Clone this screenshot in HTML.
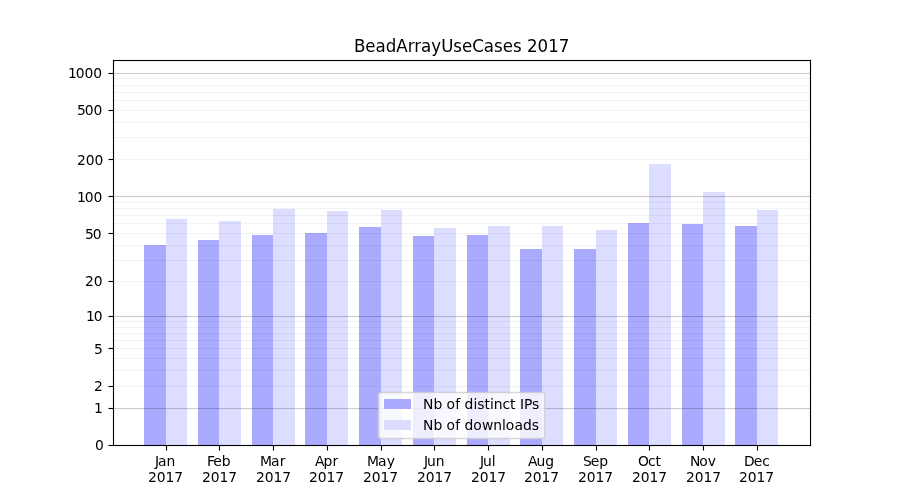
<!DOCTYPE html>
<html lang="en"><head><meta charset="utf-8"><title>BeadArrayUseCases 2017</title>
<style>
html,body{margin:0;padding:0;background:#fff;}
body{width:900px;height:500px;overflow:hidden;}
svg{display:block;}
text{font-family:"DejaVu Sans","Liberation Sans",sans-serif;fill:#000;white-space:pre;}
.t{font-size:13.8889px;}
.ttl{font-size:16.6667px;}
</style></head>
<body>
<svg width="900" height="500" viewBox="0 0 900 500">
<rect width="900" height="500" fill="#fff"/>
<g shape-rendering="crispEdges">
<!-- bars -->
<rect x="144" y="245" width="22" height="200" fill="#aaaaff"/><rect x="166" y="219" width="21" height="226" fill="#ddddff"/>
<rect x="198" y="240" width="21" height="205" fill="#aaaaff"/><rect x="219" y="221" width="22" height="224" fill="#ddddff"/>
<rect x="252" y="235" width="21" height="210" fill="#aaaaff"/><rect x="273" y="209" width="22" height="236" fill="#ddddff"/>
<rect x="305" y="233" width="22" height="212" fill="#aaaaff"/><rect x="327" y="211" width="21" height="234" fill="#ddddff"/>
<rect x="359" y="227" width="22" height="218" fill="#aaaaff"/><rect x="381" y="210" width="21" height="235" fill="#ddddff"/>
<rect x="413" y="236" width="21" height="209" fill="#aaaaff"/><rect x="434" y="228" width="22" height="217" fill="#ddddff"/>
<rect x="467" y="235" width="21" height="210" fill="#aaaaff"/><rect x="488" y="226" width="22" height="219" fill="#ddddff"/>
<rect x="520" y="249" width="22" height="196" fill="#aaaaff"/><rect x="542" y="226" width="21" height="219" fill="#ddddff"/>
<rect x="574" y="249" width="22" height="196" fill="#aaaaff"/><rect x="596" y="230" width="21" height="215" fill="#ddddff"/>
<rect x="628" y="223" width="21" height="222" fill="#aaaaff"/><rect x="649" y="164" width="22" height="281" fill="#ddddff"/>
<rect x="682" y="224" width="21" height="221" fill="#aaaaff"/><rect x="703" y="192" width="22" height="253" fill="#ddddff"/>
<rect x="735" y="226" width="22" height="219" fill="#aaaaff"/><rect x="757" y="210" width="21" height="235" fill="#ddddff"/>
<!-- horizontal grid lines (minor then major) -->
<rect x="113" y="386" width="698" height="1" fill-opacity="0.05"/>
<rect x="113" y="370" width="698" height="1" fill-opacity="0.05"/>
<rect x="113" y="358" width="698" height="1" fill-opacity="0.05"/>
<rect x="113" y="348" width="698" height="1" fill-opacity="0.05"/>
<rect x="113" y="340" width="698" height="1" fill-opacity="0.05"/>
<rect x="113" y="333" width="698" height="1" fill-opacity="0.05"/>
<rect x="113" y="327" width="698" height="1" fill-opacity="0.05"/>
<rect x="113" y="321" width="698" height="1" fill-opacity="0.05"/>
<rect x="113" y="281" width="698" height="1" fill-opacity="0.05"/>
<rect x="113" y="260" width="698" height="1" fill-opacity="0.05"/>
<rect x="113" y="245" width="698" height="1" fill-opacity="0.05"/>
<rect x="113" y="233" width="698" height="1" fill-opacity="0.05"/>
<rect x="113" y="223" width="698" height="1" fill-opacity="0.05"/>
<rect x="113" y="215" width="698" height="1" fill-opacity="0.05"/>
<rect x="113" y="208" width="698" height="1" fill-opacity="0.05"/>
<rect x="113" y="202" width="698" height="1" fill-opacity="0.05"/>
<rect x="113" y="159" width="698" height="1" fill-opacity="0.05"/>
<rect x="113" y="137" width="698" height="1" fill-opacity="0.05"/>
<rect x="113" y="122" width="698" height="1" fill-opacity="0.05"/>
<rect x="113" y="110" width="698" height="1" fill-opacity="0.05"/>
<rect x="113" y="100" width="698" height="1" fill-opacity="0.05"/>
<rect x="113" y="92" width="698" height="1" fill-opacity="0.05"/>
<rect x="113" y="85" width="698" height="1" fill-opacity="0.05"/>
<rect x="113" y="78" width="698" height="1" fill-opacity="0.05"/>
<rect x="113" y="407" width="698" height="1" fill-opacity="0.01112"/><rect x="113" y="409" width="698" height="1" fill-opacity="0.01112"/><rect x="113" y="408" width="698" height="1" fill-opacity="0.2"/>
<rect x="113" y="315" width="698" height="1" fill-opacity="0.01112"/><rect x="113" y="317" width="698" height="1" fill-opacity="0.01112"/><rect x="113" y="316" width="698" height="1" fill-opacity="0.2"/>
<rect x="113" y="195" width="698" height="1" fill-opacity="0.01112"/><rect x="113" y="197" width="698" height="1" fill-opacity="0.01112"/><rect x="113" y="196" width="698" height="1" fill-opacity="0.2"/>
<rect x="113" y="72" width="698" height="1" fill-opacity="0.01112"/><rect x="113" y="74" width="698" height="1" fill-opacity="0.01112"/><rect x="113" y="73" width="698" height="1" fill-opacity="0.2"/>
<!-- y ticks -->
<rect x="108" y="444" width="1" height="1" fill-opacity="0.0278"/><rect x="109" y="444" width="4" height="1" fill-opacity="0.0556"/><rect x="108" y="446" width="1" height="1" fill-opacity="0.0278"/><rect x="109" y="446" width="4" height="1" fill-opacity="0.0556"/><rect x="108" y="445" width="1" height="1" fill-opacity="0.5"/><rect x="109" y="445" width="4" height="1"/>
<rect x="108" y="407" width="1" height="1" fill-opacity="0.0278"/><rect x="109" y="407" width="4" height="1" fill-opacity="0.0556"/><rect x="108" y="409" width="1" height="1" fill-opacity="0.0278"/><rect x="109" y="409" width="4" height="1" fill-opacity="0.0556"/><rect x="108" y="408" width="1" height="1" fill-opacity="0.5"/><rect x="109" y="408" width="4" height="1"/>
<rect x="108" y="385" width="1" height="1" fill-opacity="0.0278"/><rect x="109" y="385" width="4" height="1" fill-opacity="0.0556"/><rect x="108" y="387" width="1" height="1" fill-opacity="0.0278"/><rect x="109" y="387" width="4" height="1" fill-opacity="0.0556"/><rect x="108" y="386" width="1" height="1" fill-opacity="0.5"/><rect x="109" y="386" width="4" height="1"/>
<rect x="108" y="347" width="1" height="1" fill-opacity="0.0278"/><rect x="109" y="347" width="4" height="1" fill-opacity="0.0556"/><rect x="108" y="349" width="1" height="1" fill-opacity="0.0278"/><rect x="109" y="349" width="4" height="1" fill-opacity="0.0556"/><rect x="108" y="348" width="1" height="1" fill-opacity="0.5"/><rect x="109" y="348" width="4" height="1"/>
<rect x="108" y="315" width="1" height="1" fill-opacity="0.0278"/><rect x="109" y="315" width="4" height="1" fill-opacity="0.0556"/><rect x="108" y="317" width="1" height="1" fill-opacity="0.0278"/><rect x="109" y="317" width="4" height="1" fill-opacity="0.0556"/><rect x="108" y="316" width="1" height="1" fill-opacity="0.5"/><rect x="109" y="316" width="4" height="1"/>
<rect x="108" y="280" width="1" height="1" fill-opacity="0.0278"/><rect x="109" y="280" width="4" height="1" fill-opacity="0.0556"/><rect x="108" y="282" width="1" height="1" fill-opacity="0.0278"/><rect x="109" y="282" width="4" height="1" fill-opacity="0.0556"/><rect x="108" y="281" width="1" height="1" fill-opacity="0.5"/><rect x="109" y="281" width="4" height="1"/>
<rect x="108" y="232" width="1" height="1" fill-opacity="0.0278"/><rect x="109" y="232" width="4" height="1" fill-opacity="0.0556"/><rect x="108" y="234" width="1" height="1" fill-opacity="0.0278"/><rect x="109" y="234" width="4" height="1" fill-opacity="0.0556"/><rect x="108" y="233" width="1" height="1" fill-opacity="0.5"/><rect x="109" y="233" width="4" height="1"/>
<rect x="108" y="195" width="1" height="1" fill-opacity="0.0278"/><rect x="109" y="195" width="4" height="1" fill-opacity="0.0556"/><rect x="108" y="197" width="1" height="1" fill-opacity="0.0278"/><rect x="109" y="197" width="4" height="1" fill-opacity="0.0556"/><rect x="108" y="196" width="1" height="1" fill-opacity="0.5"/><rect x="109" y="196" width="4" height="1"/>
<rect x="108" y="158" width="1" height="1" fill-opacity="0.0278"/><rect x="109" y="158" width="4" height="1" fill-opacity="0.0556"/><rect x="108" y="160" width="1" height="1" fill-opacity="0.0278"/><rect x="109" y="160" width="4" height="1" fill-opacity="0.0556"/><rect x="108" y="159" width="1" height="1" fill-opacity="0.5"/><rect x="109" y="159" width="4" height="1"/>
<rect x="108" y="109" width="1" height="1" fill-opacity="0.0278"/><rect x="109" y="109" width="4" height="1" fill-opacity="0.0556"/><rect x="108" y="111" width="1" height="1" fill-opacity="0.0278"/><rect x="109" y="111" width="4" height="1" fill-opacity="0.0556"/><rect x="108" y="110" width="1" height="1" fill-opacity="0.5"/><rect x="109" y="110" width="4" height="1"/>
<rect x="108" y="72" width="1" height="1" fill-opacity="0.0278"/><rect x="109" y="72" width="4" height="1" fill-opacity="0.0556"/><rect x="108" y="74" width="1" height="1" fill-opacity="0.0278"/><rect x="109" y="74" width="4" height="1" fill-opacity="0.0556"/><rect x="108" y="73" width="1" height="1" fill-opacity="0.5"/><rect x="109" y="73" width="4" height="1"/>
<!-- x ticks -->
<rect x="165" y="446" width="1" height="4" fill-opacity="0.0556"/><rect x="167" y="446" width="1" height="4" fill-opacity="0.0556"/><rect x="165" y="450" width="1" height="1" fill-opacity="0.0278"/><rect x="167" y="450" width="1" height="1" fill-opacity="0.0278"/><rect x="166" y="446" width="1" height="4"/><rect x="166" y="450" width="1" height="1" fill-opacity="0.5"/>
<rect x="218" y="446" width="1" height="4" fill-opacity="0.0556"/><rect x="220" y="446" width="1" height="4" fill-opacity="0.0556"/><rect x="218" y="450" width="1" height="1" fill-opacity="0.0278"/><rect x="220" y="450" width="1" height="1" fill-opacity="0.0278"/><rect x="219" y="446" width="1" height="4"/><rect x="219" y="450" width="1" height="1" fill-opacity="0.5"/>
<rect x="272" y="446" width="1" height="4" fill-opacity="0.0556"/><rect x="274" y="446" width="1" height="4" fill-opacity="0.0556"/><rect x="272" y="450" width="1" height="1" fill-opacity="0.0278"/><rect x="274" y="450" width="1" height="1" fill-opacity="0.0278"/><rect x="273" y="446" width="1" height="4"/><rect x="273" y="450" width="1" height="1" fill-opacity="0.5"/>
<rect x="326" y="446" width="1" height="4" fill-opacity="0.0556"/><rect x="328" y="446" width="1" height="4" fill-opacity="0.0556"/><rect x="326" y="450" width="1" height="1" fill-opacity="0.0278"/><rect x="328" y="450" width="1" height="1" fill-opacity="0.0278"/><rect x="327" y="446" width="1" height="4"/><rect x="327" y="450" width="1" height="1" fill-opacity="0.5"/>
<rect x="380" y="446" width="1" height="4" fill-opacity="0.0556"/><rect x="382" y="446" width="1" height="4" fill-opacity="0.0556"/><rect x="380" y="450" width="1" height="1" fill-opacity="0.0278"/><rect x="382" y="450" width="1" height="1" fill-opacity="0.0278"/><rect x="381" y="446" width="1" height="4"/><rect x="381" y="450" width="1" height="1" fill-opacity="0.5"/>
<rect x="433" y="446" width="1" height="4" fill-opacity="0.0556"/><rect x="435" y="446" width="1" height="4" fill-opacity="0.0556"/><rect x="433" y="450" width="1" height="1" fill-opacity="0.0278"/><rect x="435" y="450" width="1" height="1" fill-opacity="0.0278"/><rect x="434" y="446" width="1" height="4"/><rect x="434" y="450" width="1" height="1" fill-opacity="0.5"/>
<rect x="487" y="446" width="1" height="4" fill-opacity="0.0556"/><rect x="489" y="446" width="1" height="4" fill-opacity="0.0556"/><rect x="487" y="450" width="1" height="1" fill-opacity="0.0278"/><rect x="489" y="450" width="1" height="1" fill-opacity="0.0278"/><rect x="488" y="446" width="1" height="4"/><rect x="488" y="450" width="1" height="1" fill-opacity="0.5"/>
<rect x="541" y="446" width="1" height="4" fill-opacity="0.0556"/><rect x="543" y="446" width="1" height="4" fill-opacity="0.0556"/><rect x="541" y="450" width="1" height="1" fill-opacity="0.0278"/><rect x="543" y="450" width="1" height="1" fill-opacity="0.0278"/><rect x="542" y="446" width="1" height="4"/><rect x="542" y="450" width="1" height="1" fill-opacity="0.5"/>
<rect x="595" y="446" width="1" height="4" fill-opacity="0.0556"/><rect x="597" y="446" width="1" height="4" fill-opacity="0.0556"/><rect x="595" y="450" width="1" height="1" fill-opacity="0.0278"/><rect x="597" y="450" width="1" height="1" fill-opacity="0.0278"/><rect x="596" y="446" width="1" height="4"/><rect x="596" y="450" width="1" height="1" fill-opacity="0.5"/>
<rect x="648" y="446" width="1" height="4" fill-opacity="0.0556"/><rect x="650" y="446" width="1" height="4" fill-opacity="0.0556"/><rect x="648" y="450" width="1" height="1" fill-opacity="0.0278"/><rect x="650" y="450" width="1" height="1" fill-opacity="0.0278"/><rect x="649" y="446" width="1" height="4"/><rect x="649" y="450" width="1" height="1" fill-opacity="0.5"/>
<rect x="702" y="446" width="1" height="4" fill-opacity="0.0556"/><rect x="704" y="446" width="1" height="4" fill-opacity="0.0556"/><rect x="702" y="450" width="1" height="1" fill-opacity="0.0278"/><rect x="704" y="450" width="1" height="1" fill-opacity="0.0278"/><rect x="703" y="446" width="1" height="4"/><rect x="703" y="450" width="1" height="1" fill-opacity="0.5"/>
<rect x="756" y="446" width="1" height="4" fill-opacity="0.0556"/><rect x="758" y="446" width="1" height="4" fill-opacity="0.0556"/><rect x="756" y="450" width="1" height="1" fill-opacity="0.0278"/><rect x="758" y="450" width="1" height="1" fill-opacity="0.0278"/><rect x="757" y="446" width="1" height="4"/><rect x="757" y="450" width="1" height="1" fill-opacity="0.5"/>
<!-- spines -->
<rect x="112" y="60" width="1" height="386" fill-opacity="0.0556"/><rect x="114" y="60" width="1" height="386" fill-opacity="0.0556"/><rect x="113" y="59" width="1" height="1" fill-opacity="0.0556"/><rect x="113" y="446" width="1" height="1" fill-opacity="0.0556"/><rect x="113" y="60" width="1" height="386"/>
<rect x="809" y="60" width="1" height="386" fill-opacity="0.0556"/><rect x="811" y="60" width="1" height="386" fill-opacity="0.0556"/><rect x="810" y="59" width="1" height="1" fill-opacity="0.0556"/><rect x="810" y="446" width="1" height="1" fill-opacity="0.0556"/><rect x="810" y="60" width="1" height="386"/>
<rect x="113" y="59" width="698" height="1" fill-opacity="0.0556"/><rect x="113" y="61" width="698" height="1" fill-opacity="0.0556"/><rect x="112" y="60" width="1" height="1" fill-opacity="0.0556"/><rect x="811" y="60" width="1" height="1" fill-opacity="0.0556"/><rect x="113" y="60" width="698" height="1"/>
<rect x="113" y="444" width="698" height="1" fill-opacity="0.0556"/><rect x="113" y="446" width="698" height="1" fill-opacity="0.0556"/><rect x="112" y="445" width="1" height="1" fill-opacity="0.0556"/><rect x="811" y="445" width="1" height="1" fill-opacity="0.0556"/><rect x="113" y="445" width="698" height="1"/>
</g>
<!-- y tick labels -->
<text class="t" x="94.88" y="450">0</text>
<text class="t" x="93.88" y="413">1</text>
<text class="t" x="93.88" y="391">2</text>
<text class="t" x="93.88" y="354">5</text>
<text class="t" x="85.88 93.75" y="321">10</text>
<text class="t" x="85 93.75" y="286">20</text>
<text class="t" x="85 92.75" y="239">50</text>
<text class="t" x="76.88 84.75 93.5" y="202">100</text>
<text class="t" x="77 85.75 94.5" y="165">200</text>
<text class="t" x="77 84.75 93.5" y="115">500</text>
<text class="t" x="67.88 75.75 84.5 93.25" y="78">1000</text>
<!-- x tick labels -->
<text class="t" x="154.88 157.88 166.5" y="466">Jan</text><text class="t" x="148 156.75 165.5 174.25" y="482">2017</text>
<text class="t" x="207 213.25 221.75" y="466">Feb</text><text class="t" x="202 210.75 219.5 228.25" y="482">2017</text>
<text class="t" x="260.12 271.12 279.75" y="466">Mar</text><text class="t" x="256 264.75 273.5 282.25" y="482">2017</text>
<text class="t" x="315 323.38 332.38" y="466">Apr</text><text class="t" x="309 317.75 326.5 335.25" y="482">2017</text>
<text class="t" x="367.12 378.12 386.75" y="466">May</text><text class="t" x="363 371.75 380.5 389.25" y="482">2017</text>
<text class="t" x="424 427 435.75" y="466">Jun</text><text class="t" x="417 425.75 434.5 443.25" y="482">2017</text>
<text class="t" x="480 483 491.75" y="466">Jul</text><text class="t" x="471 479.75 488.5 497.25" y="482">2017</text>
<text class="t" x="528 536.5 545.25" y="466">Aug</text><text class="t" x="524 532.75 541.5 550.25" y="482">2017</text>
<text class="t" x="583 590.75 599.25" y="466">Sep</text><text class="t" x="578 586.75 595.5 604.25" y="482">2017</text>
<text class="t" x="638 647.88 655.5" y="466">Oct</text><text class="t" x="632 640.75 649.5 658.25" y="482">2017</text>
<text class="t" x="689.88 699.25 707.75" y="466">Nov</text><text class="t" x="686 694.75 703.5 712.25" y="482">2017</text>
<text class="t" x="744 753.75 762.25" y="466">Dec</text><text class="t" x="739 747.75 756.5 765.25" y="482">2017</text>
<!-- title -->
<text class="ttl" transform="translate(353.875 52) scale(1 1.083)" x="0 11.38 21.75 31.88 42.38 53.88 60.38 67.25 77.5 87.38 99.5 108.25 118.5 129.88 140.12 148.88 159.12 167.88 173.12 183.75 194.38 205" y="0">BeadArrayUseCases 2017</text>
<!-- legend -->
<path d="M381.5 392.5H542.5Q544.5 392.5 544.5 395.5V435.5Q544.5 438.5 542.5 438.5H381.5Q378.5 438.5 378.5 435.5V395.5Q378.5 392.5 381.5 392.5Z" fill="#fff" fill-opacity="0.8" stroke="#ccc" stroke-opacity="0.8" stroke-width="1.389"/>
<g shape-rendering="crispEdges"><rect x="384" y="399" width="27" height="10" fill="#aaaaff"/><rect x="384" y="420" width="27" height="10" fill="#ddddff"/></g>
<text class="t" x="422.88 433.38 442.25 446.62 455.25 460.25 464.38 473.38 477.25 484.38 489.88 493.75 502.5 510.12 515.75 520 524 532.12" y="409">Nb of distinct IPs</text>
<text class="t" x="422.88 433.38 442.25 446.62 455.25 460.25 464.5 473.25 481.88 493.25 502 505.75 514.38 522.88 531.75" y="430">Nb of downloads</text>
</svg>
</body></html>
